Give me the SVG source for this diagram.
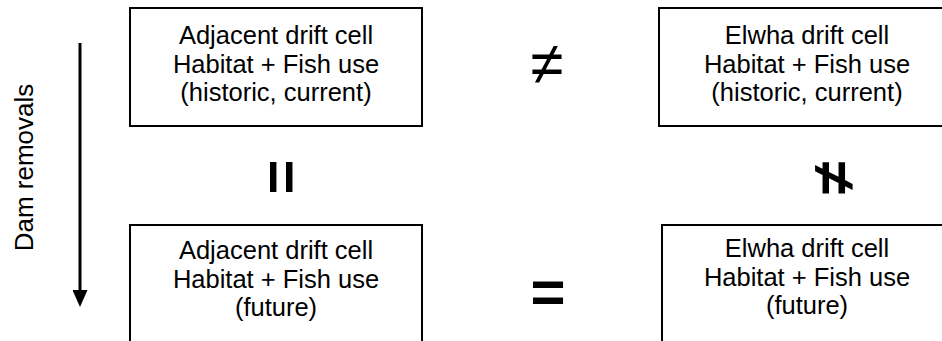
<svg xmlns="http://www.w3.org/2000/svg" width="942" height="341" viewBox="0 0 942 341">
<style>
.box{fill:#fff;stroke:#000;stroke-width:2}
.t{font-family:"Liberation Sans",Arial,sans-serif;font-size:25.5px;fill:#000;text-anchor:middle}
.d{font-size:26px}
.sym{font-family:"Liberation Sans",Arial,sans-serif;font-size:60px;fill:#000;text-anchor:middle}
.b{font-weight:bold}
</style>
<defs>
<marker id="ah" markerWidth="17" markerHeight="15" refX="0" refY="7.5" orient="auto" markerUnits="userSpaceOnUse" viewBox="0 0 17 15">
<path d="M0,0 L17,7.5 L0,15 Z" fill="#000"/>
</marker>
</defs>
<rect width="942" height="341" fill="#fff"/>
<g id="connectors">
<line x1="80" y1="43" x2="80" y2="290" stroke="#000" stroke-width="3" marker-end="url(#ah)"/>
</g>
<g id="label-dam">
<text class="t d" transform="translate(33,167.5) rotate(-90)">Dam removals</text>
</g>
<g id="adj-current">
<rect class="box" x="130" y="8" width="292" height="118"/>
<text class="t" x="276" y="44">Adjacent drift cell</text>
<text class="t" x="276" y="72.6">Habitat + Fish use</text>
<text class="t" x="276" y="101.2">(historic, current)</text>
</g>
<g id="elwha-current">
<rect class="box" x="659" y="8" width="296" height="118"/>
<text class="t" x="807" y="44">Elwha drift cell</text>
<text class="t" x="807" y="72.6">Habitat + Fish use</text>
<text class="t" x="807" y="101.2">(historic, current)</text>
</g>
<g id="adj-future">
<rect class="box" x="130" y="225" width="292" height="130"/>
<text class="t" x="276" y="259">Adjacent drift cell</text>
<text class="t" x="276" y="287.6">Habitat + Fish use</text>
<text class="t" x="276" y="316.2">(future)</text>
</g>
<g id="elwha-future">
<rect class="box" x="662" y="225" width="290" height="130"/>
<text class="t" x="807" y="257">Elwha drift cell</text>
<text class="t" x="807" y="285.6">Habitat + Fish use</text>
<text class="t" x="807" y="314.2">(future)</text>
</g>
<g id="symbols">
<text class="sym" x="547" y="84">≠</text>
<text class="sym b" x="548" y="311.5">=</text>
<text class="sym b" transform="translate(281.7,177) rotate(90)" x="0" y="20">=</text>
<text class="sym b" transform="translate(833.7,178) rotate(90)" x="0" y="20">≠</text>
</g>
</svg>
